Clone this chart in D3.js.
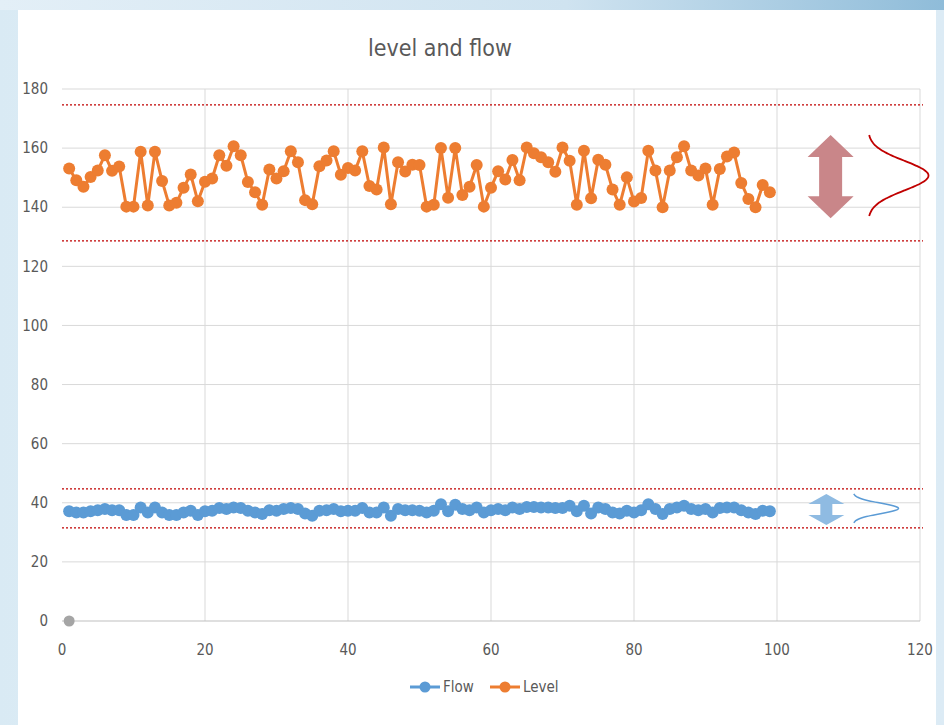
<!DOCTYPE html>
<html>
<head>
<meta charset="utf-8">
<script src="https://cdn.jsdelivr.net/npm/d3@7"></script>
<style>
  html, body { margin: 0; padding: 0; }
  body {
    width: 944px; height: 725px; overflow: hidden;
    background: linear-gradient(90deg, #d9eaf4 0%, #e8f2f8 40%, #dcebf5 100%);
  }
  svg { display: block; }
  .tick-label { font-family: "Liberation Sans Narrow", "DejaVu Sans Condensed", "Roboto", sans-serif; fill: #595959; font-size: 15px; }
</style>
</head>
<body>
<svg id="chart" width="944" height="725"></svg>
<script>
// x positions (sample number)
const sampleIdx = d3.range(1, 100);

const levelValues = [
  153.1, 149.1, 146.9, 150.2, 152.4, 157.6, 152.3, 153.8, 140.2, 140.2,
  158.8, 140.6, 158.8, 148.9, 140.6, 141.5, 146.6, 151.1, 142.0, 148.6,
  149.7, 157.6, 154.0, 160.6, 157.6, 148.5, 145.1, 140.8, 152.8, 149.7,
  152.2, 158.9, 155.2, 142.4, 141.0, 153.9, 155.8, 158.9, 151.0, 153.3,
  152.4, 158.9, 147.2, 146.0, 160.2, 141.0, 155.2, 152.1, 154.4, 154.3,
  140.2, 140.8, 160.0, 143.2, 160.0, 144.1, 146.9, 154.3, 140.2, 146.6,
  152.2, 149.4, 156.0, 149.1, 160.2, 158.3, 156.9, 155.2, 152.0, 160.2,
  155.7, 140.8, 159.1, 143.0, 156.1, 154.4, 146.0, 140.8, 150.1, 141.9,
  143.1, 159.1, 152.4, 140.0, 152.4, 156.9, 160.6, 152.4, 150.7, 153.1,
  140.8, 152.9, 157.2, 158.5, 148.2, 142.8, 140.0, 147.5, 145.1
];

const flowValues = [
  37.1, 36.7, 36.7, 37.1, 37.5, 37.9, 37.5, 37.5, 35.9, 35.9,
  38.4, 36.7, 38.4, 36.7, 35.9, 35.9, 36.7, 37.3, 35.9, 37.1,
  37.3, 38.2, 37.9, 38.4, 38.2, 37.3, 36.7, 36.2, 37.5, 37.3,
  37.9, 38.2, 37.9, 36.4, 35.6, 37.3, 37.5, 37.9, 37.1, 37.3,
  37.3, 38.2, 36.7, 36.7, 38.4, 35.6, 37.9, 37.5, 37.5, 37.3,
  36.7, 37.3, 39.5, 37.1, 39.3, 37.9, 37.5, 38.4, 36.7, 37.5,
  37.9, 37.5, 38.4, 37.9, 38.6, 38.6, 38.4, 38.4, 38.2, 38.2,
  39.0, 37.1, 39.0, 36.4, 38.4, 37.9, 36.7, 36.4, 37.3, 36.7,
  37.5, 39.5, 37.9, 36.2, 37.9, 38.4, 39.0, 37.9, 37.5, 37.9,
  36.7, 38.2, 38.4, 38.4, 37.5, 36.7, 36.2, 37.3, 37.1
];

// third (unlabelled) series: a single point
const extraPoint = [{ x: 1, y: 0 }];

// control limits (red dotted lines)
const limitValues = [174.6, 128.6, 44.7, 31.5];

const xTicks = [0, 20, 40, 60, 80, 100, 120];
const yTicks = [0, 20, 40, 60, 80, 100, 120, 140, 160, 180];

const seriesNames = ["Flow", "Level"];
const seriesColors = ["#5B9BD5", "#ED7D31"];

const svg = d3.select("#chart");

// white slide panel
svg.append("rect").attr("x", 18).attr("y", 10).attr("width", 918).attr("height", 715).attr("fill", "#ffffff");
// top glossy band
const defs = svg.append("defs");
const topGrad = defs.append("linearGradient").attr("id", "topband").attr("x1", 0).attr("x2", 1);
topGrad.append("stop").attr("offset", "0%").attr("stop-color", "#e3eff7");
topGrad.append("stop").attr("offset", "60%").attr("stop-color", "#cfe3f0");
topGrad.append("stop").attr("offset", "100%").attr("stop-color", "#8fbcd9");
svg.append("rect").attr("x", 0).attr("y", 0).attr("width", 944).attr("height", 10).attr("fill", "url(#topband)");

const x = d3.scaleLinear().domain([0, 120]).range([62, 920]);
const y = d3.scaleLinear().domain([0, 180]).range([621, 89]);

// gridlines
svg.append("g").selectAll("line").data(yTicks.filter(d => d > 0)).join("line")
  .attr("x1", x(0)).attr("x2", x(120))
  .attr("y1", d => y(d)).attr("y2", d => y(d))
  .attr("stroke", "#d9d9d9").attr("stroke-width", 1);
svg.append("g").selectAll("line").data(xTicks.filter(d => d > 0)).join("line")
  .attr("x1", d => x(d)).attr("x2", d => x(d))
  .attr("y1", y(0)).attr("y2", y(180))
  .attr("stroke", "#d9d9d9").attr("stroke-width", 1);
// x axis line
svg.append("line").attr("x1", x(0)).attr("x2", x(120)).attr("y1", y(0)).attr("y2", y(0))
  .attr("stroke", "#bfbfbf").attr("stroke-width", 1);

// tick labels
svg.append("g").selectAll("text").data(yTicks).join("text")
  .attr("class", "tick-label")
  .attr("x", 48).attr("y", d => y(d)).attr("dy", "0.35em")
  .attr("text-anchor", "end").text(d => d);
svg.append("g").selectAll("text").data(xTicks).join("text")
  .attr("class", "tick-label")
  .attr("x", d => x(d)).attr("y", 655)
  .attr("text-anchor", "middle").text(d => d);

// title
svg.append("text").attr("x", 440).attr("y", 56).attr("text-anchor", "middle")
  .attr("class", "tick-label").style("font-size", "23px").text("level and flow");

// limit lines
svg.append("g").selectAll("line").data(limitValues).join("line")
  .attr("x1", x(0)).attr("x2", x(120) + 3)
  .attr("y1", d => y(d)).attr("y2", d => y(d))
  .attr("stroke", "#c00000").attr("stroke-width", 1.2).attr("stroke-dasharray", "2,2");

// series
const line = d3.line().x(d => x(d.x)).y(d => y(d.y));
const flowData = sampleIdx.map((s, i) => ({ x: s, y: flowValues[i] }));
const levelData = sampleIdx.map((s, i) => ({ x: s, y: levelValues[i] }));

[flowData, levelData].forEach((data, k) => {
  const g = svg.append("g");
  g.append("path").datum(data).attr("d", line)
    .attr("fill", "none").attr("stroke", seriesColors[k]).attr("stroke-width", 3).attr("stroke-linejoin", "round");
  g.selectAll("circle").data(data).join("circle")
    .attr("cx", d => x(d.x)).attr("cy", d => y(d.y)).attr("r", 6)
    .attr("fill", seriesColors[k]);
});

svg.append("g").selectAll("circle").data(extraPoint).join("circle")
  .attr("cx", d => x(d.x)).attr("cy", d => y(d.y)).attr("r", 5.5).attr("fill", "#a5a5a5");

// annotation: double arrow + sideways bell curve
function doubleArrow(cx, top, bottom, headW, shaftW, headH, fill) {
  const hw = headW / 2, sw = shaftW / 2;
  const pts = [
    [cx, top], [cx + hw, top + headH], [cx + sw, top + headH], [cx + sw, bottom - headH],
    [cx + hw, bottom - headH], [cx, bottom], [cx - hw, bottom - headH], [cx - sw, bottom - headH],
    [cx - sw, top + headH], [cx - hw, top + headH]
  ];
  svg.append("polygon").attr("points", pts.map(p => p.join(",")).join(" ")).attr("fill", fill);
}
function bell(x0, peakX, top, bottom, color, w) {
  const mid = (top + bottom) / 2;
  const n = 60;
  const sigma = (bottom - top) / 5.5;
  const pts = d3.range(n + 1).map(i => {
    const yy = top + (bottom - top) * i / n;
    return [x0 + (peakX - x0) * Math.exp(-((yy - mid) ** 2) / (2 * sigma * sigma)), yy];
  });
  svg.append("path").attr("d", d3.line().curve(d3.curveBasis)(pts))
    .attr("fill", "none").attr("stroke", color).attr("stroke-width", w);
}

doubleArrow(x(107.5), y(164.4), y(136.3), 46, 23, 22, "#c98689");
bell(x(112.7), x(121.2), y(164.4), y(137.0), "#c00000", 1.8);
doubleArrow(x(106.9), y(43.0), y(32.5), 36, 12, 10, "#8fbbe2");
bell(x(110.6), x(117.0), y(43.0), y(33.2), "#5b9bd5", 1.5);

// legend
const legendItems = [{ x: 410, label: seriesNames[0], color: seriesColors[0] },
                     { x: 490, label: seriesNames[1], color: seriesColors[1] }];
const lg = svg.append("g").selectAll("g").data(legendItems).join("g")
  .attr("transform", d => `translate(${d.x},687)`);
lg.append("line").attr("x1", 0).attr("x2", 30).attr("stroke", d => d.color).attr("stroke-width", 3);
lg.append("circle").attr("cx", 15).attr("r", 5.5).attr("fill", d => d.color);
lg.append("text").attr("class", "tick-label").attr("x", 33).attr("dy", "0.35em").text(d => d.label);
</script>
</body>
</html>
